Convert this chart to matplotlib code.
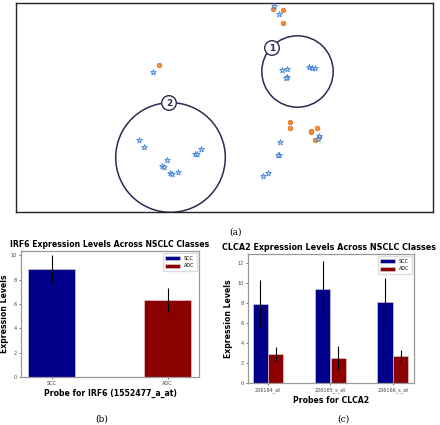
import matplotlib
matplotlib.use("Agg")
import matplotlib.pyplot as plt
from matplotlib.patches import Circle
import numpy as np

# --- panel (a): 2-d embedding, picture coordinates ---
adc_x = [273, 283, 283, 159, 290, 290, 311, 317, 319, 315, 311]
adc_y = [9, 10, 23, 65, 122, 128, 131, 128, 137, 140, 132]
scc_x = [274, 279, 153, 282, 287, 287, 286, 309, 312, 315,
         280, 279, 278, 263, 268, 319, 318,
         139, 144, 167, 162, 164, 170, 172, 178, 195, 197, 201]
scc_y = [6, 14, 72, 70, 69, 77, 78, 67, 68, 68,
         142, 155, 155, 176, 173, 136, 139,
         140, 147, 160, 166, 167, 173, 174, 172, 154, 154, 149]
cluster_cx = [297.5, 170.5]
cluster_cy = [71.5, 157.5]
cluster_r = [35.7, 54.8]
cluster_lbl = ["1", "2"]
cluster_lx = [272, 169]
cluster_ly = [48, 103]

# --- panel (b): IRF6 ---
irf6_cls = ["SCC", "ADC"]
irf6_mean = [8.87, 6.3]
irf6_err = [1.14, 1.0]

# --- panel (c): CLCA2 ---
clca2_probes = ["206164_at", "206165_s_at", "206166_s_at"]
clca2_scc = [7.9, 9.37, 8.1]
clca2_scc_err = [2.37, 2.8, 2.4]
clca2_adc = [2.93, 2.53, 2.67]
clca2_adc_err = [0.7, 1.13, 0.63]

navy = "#00008b"
dred = "#8b0000"
ring = "#2a2c50"

W, H = 440, 425
fig = plt.figure(figsize=(W / 100, H / 100), dpi=100)

# (a)
ax = fig.add_axes([16 / W, 1 - 212 / H, 417 / W, 209 / H])
ax.set_xlim(16, 433)
ax.set_ylim(212, 3)
ax.set_xticks([])
ax.set_yticks([])
for s in ax.spines.values():
    s.set_linewidth(1.0)
    s.set_color("#222222")
for cx, cy, r in zip(cluster_cx, cluster_cy, cluster_r):
    ax.add_patch(Circle((cx, cy), r, fill=False, ec=ring, lw=1.1, zorder=1))
ax.scatter(adc_x, adc_y, s=11, c="#f0923a", edgecolors="#e06a20", linewidths=0.5, zorder=3)
ax.scatter(scc_x, scc_y, s=18, marker="*", facecolors="#dfeaf8", edgecolors="#3d7fd6",
           linewidths=0.6, zorder=3)
for lbl, lx, ly in zip(cluster_lbl, cluster_lx, cluster_ly):
    ax.add_patch(Circle((lx, ly), 7.3, fc="white", ec=ring, lw=1.0, zorder=4))
    ax.text(lx, ly + 0.5, lbl, ha="center", va="center", fontsize=6.5, fontweight="bold",
            color=ring, zorder=5)
fig.text(235 / W, 1 - 232 / H, "(a)", ha="center", va="center", fontsize=6.5,
         family="DejaVu Serif")


def style(a):
    for s in a.spines.values():
        s.set_color("#999999")
        s.set_linewidth(0.9)
    a.tick_params(labelsize=3.5, length=1.5, width=0.5, colors="#444444", pad=1.5)


# (b)
axb = fig.add_axes([21 / W, 1 - 377 / H, 178 / W, 126 / H])
xb = np.arange(len(irf6_cls))
for i, (m, e, c) in enumerate(zip(irf6_mean, irf6_err, [navy, dred])):
    axb.bar(xb[i], m, width=0.405, color=c, edgecolor="#dddddd", linewidth=0.4,
            label=irf6_cls[i])
    axb.errorbar(xb[i], m, yerr=e, color="black", lw=0.8, capsize=0)
axb.set_xlim(-0.263, 1.27)
axb.set_ylim(0, 10.35)
axb.set_xticks(xb)
axb.set_xticklabels(irf6_cls)
axb.set_yticks(range(0, 11, 2))
style(axb)
axb.set_title("IRF6 Expression Levels Across NSCLC Classes", fontsize=5.6,
              fontweight="bold", pad=3)
axb.set_ylabel("Expression Levels", fontsize=5.6, fontweight="bold")
axb.yaxis.set_label_coords(-0.068, 0.5)
axb.set_xlabel("Probe for IRF6 (1552477_a_at)", fontsize=5.6, fontweight="bold", labelpad=2)
axb.legend(loc="upper right", fontsize=3.5, handlelength=3, handleheight=0.9,
           borderpad=0.5, labelspacing=0.5, framealpha=1, edgecolor="#dddddd")
fig.text(102 / W, 1 - 419 / H, "(b)", ha="center", va="center", fontsize=6.5,
         family="DejaVu Serif")

# (c)
axc = fig.add_axes([248 / W, 1 - 383 / H, 166 / W, 129 / H])
xc = np.arange(len(clca2_probes))
axc.bar(xc - 0.125, clca2_scc, width=0.245, color=navy, edgecolor="#dddddd",
        linewidth=0.4, label="SCC")
axc.bar(xc + 0.125, clca2_adc, width=0.245, color=dred, edgecolor="#dddddd",
        linewidth=0.4, label="ADC")
axc.errorbar(xc - 0.125, clca2_scc, yerr=clca2_scc_err, fmt="none", ecolor="black", lw=0.8)
axc.errorbar(xc + 0.125, clca2_adc, yerr=clca2_adc_err, fmt="none", ecolor="black", lw=0.8)
axc.set_xlim(-0.32, 2.34)
axc.set_ylim(0, 12.9)
axc.set_xticks(xc)
axc.set_xticklabels(clca2_probes)
axc.set_yticks(range(0, 13, 2))
style(axc)
axc.set_title("CLCA2 Expression Levels Across NSCLC Classes", fontsize=5.75,
              fontweight="bold", pad=3, x=0.49)
axc.set_ylabel("Expression Levels", fontsize=5.6, fontweight="bold")
axc.yaxis.set_label_coords(-0.093, 0.5)
axc.set_xlabel("Probes for CLCA2", fontsize=5.6, fontweight="bold", labelpad=2)
axc.legend(loc="upper right", fontsize=3.5, handlelength=3, handleheight=0.9,
           borderpad=0.5, labelspacing=0.5, framealpha=1, edgecolor="#dddddd")
fig.text(343 / W, 1 - 419 / H, "(c)", ha="center", va="center", fontsize=6.5,
         family="DejaVu Serif")

fig.savefig("out.png", dpi=100)
